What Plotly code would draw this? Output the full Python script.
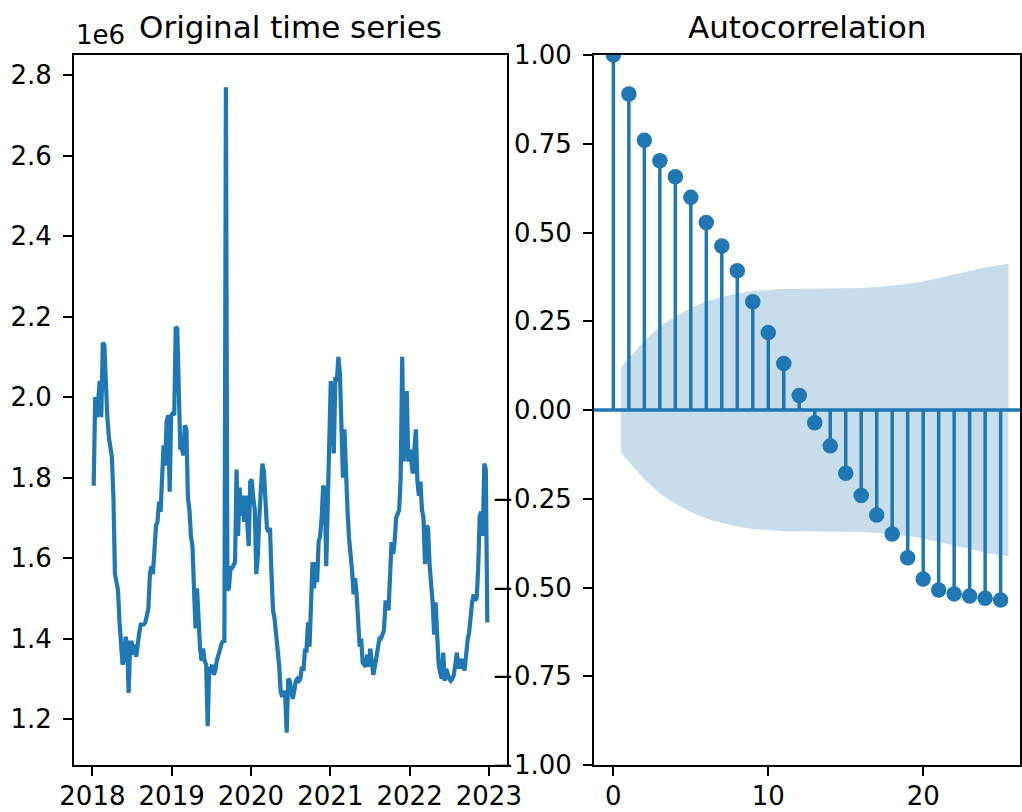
import pandas as pd
import plotly.graph_objects as go

# ---------------- data ----------------
start_date = "2018-01-07"
n_weeks = 260
# weekly values, in millions (axis offset label "1e6")
series_millions = [
    1.78, 2.00, 1.95, 2.00, 2.04, 1.95, 2.135, 2.13, 2.00, 1.95,
    1.90, 1.87, 1.85, 1.75, 1.56, 1.54, 1.52, 1.44, 1.36, 1.335,
    1.35, 1.405, 1.385, 1.265, 1.39, 1.39, 1.36, 1.385, 1.355, 1.39,
    1.415, 1.435, 1.435, 1.435, 1.44, 1.46, 1.475, 1.56, 1.58, 1.56,
    1.62, 1.68, 1.69, 1.74, 1.715, 1.84, 1.88, 1.83, 1.94, 1.955,
    1.765, 1.955, 1.96, 1.955, 2.175, 2.17, 2.04, 1.87, 1.875, 1.855,
    1.93, 1.92, 1.75, 1.72, 1.655, 1.63, 1.525, 1.425, 1.525, 1.425,
    1.375, 1.345, 1.375, 1.345, 1.335, 1.182, 1.325, 1.325, 1.335, 1.31,
    1.32, 1.345, 1.36, 1.38, 1.385, 1.395, 1.39, 2.77, 1.52, 1.525,
    1.575, 1.575, 1.585, 1.59, 1.82, 1.655, 1.775, 1.705, 1.755, 1.69,
    1.755, 1.705, 1.63, 1.79, 1.795, 1.75, 1.72, 1.56, 1.605, 1.705,
    1.755, 1.835, 1.815, 1.75, 1.675, 1.665, 1.675, 1.56, 1.47, 1.45,
    1.41, 1.395, 1.335, 1.27, 1.255, 1.27, 1.26, 1.166, 1.30, 1.295,
    1.27, 1.25, 1.27, 1.295, 1.30, 1.295, 1.30, 1.33, 1.32, 1.37,
    1.37, 1.44, 1.38, 1.52, 1.59, 1.525, 1.59, 1.54, 1.64, 1.655,
    1.70, 1.78, 1.77, 1.58, 1.72, 1.90, 2.04, 1.95, 1.86, 2.05,
    2.04, 2.10, 2.06, 1.93, 1.80, 1.92, 1.79, 1.72, 1.65, 1.62,
    1.57, 1.51, 1.55, 1.51, 1.44, 1.38, 1.40, 1.34, 1.335, 1.33,
    1.36, 1.33, 1.375, 1.34, 1.31, 1.33, 1.36, 1.39, 1.40, 1.40,
    1.41, 1.42, 1.49, 1.49, 1.47, 1.55, 1.64, 1.61, 1.64, 1.70,
    1.715, 1.72, 1.80, 2.10, 1.84, 2.01, 2.01, 1.84, 1.87, 1.84,
    1.81, 1.87, 1.92, 1.79, 1.755, 1.79, 1.72, 1.70, 1.585, 1.68,
    1.675, 1.585, 1.54, 1.49, 1.41, 1.49, 1.41, 1.335, 1.315, 1.30,
    1.365, 1.295, 1.325, 1.31, 1.30, 1.295, 1.30, 1.31, 1.345, 1.365,
    1.325, 1.35, 1.325, 1.35, 1.32, 1.375, 1.395, 1.415, 1.46, 1.49,
    1.51, 1.495, 1.50, 1.575, 1.705, 1.715, 1.655, 1.835, 1.82, 1.44,
]
year_ticks = ["2018", "2019", "2020", "2021", "2022", "2023"]
left_yticks = [1.2, 1.4, 1.6, 1.8, 2.0, 2.2, 2.4, 2.6, 2.8]

lags = list(range(26))
acf_values = [1.0, 0.89, 0.76, 0.702, 0.657, 0.599, 0.528, 0.462, 0.392, 0.305,
              0.218, 0.131, 0.041, -0.036, -0.101, -0.178, -0.241, -0.296, -0.349,
              -0.416, -0.476, -0.507, -0.518, -0.524, -0.530, -0.535]
# 95% confidence band half-width for lags 1..25
conf_half = [0.1216, 0.1954, 0.2351, 0.2643, 0.2874, 0.3053, 0.3185, 0.3282, 0.3351,
             0.3391, 0.3412, 0.3419, 0.3421, 0.3421, 0.3425, 0.3439, 0.3464, 0.3501,
             0.3552, 0.3623, 0.3715, 0.3815, 0.3918, 0.4020, 0.4122]
right_yticks = [-1.0, -0.75, -0.5, -0.25, 0.0, 0.25, 0.5, 0.75, 1.0]
right_xticks = [0, 10, 20]

# ---------------- figure ----------------
W, H = 1022, 812
BLUE = "#1f77b4"
FONT = "DejaVu Sans"
TICK_SIZE = 26
TITLE_SIZE = 31

dates = pd.date_range(start_date, periods=n_weeks, freq="7D")
span = dates[-1] - dates[0]
x_lo, x_hi = dates[0] - span * 0.05, dates[-1] + span * 0.05
yr = max(series_millions) - min(series_millions)
y_lo, y_hi = min(series_millions) - 0.05 * yr, max(series_millions) + 0.05 * yr

def px_x(p):
    return p / W

def px_y(p):
    return 1 - p / H

L_dom = [px_x(74), px_x(507)]
R_dom = [px_x(594), px_x(1020)]
Y_dom = [px_y(765), px_y(55)]

fig = go.Figure()

# left: time series
fig.add_trace(go.Scatter(x=dates, y=series_millions, mode="lines",
                         line=dict(color=BLUE, width=4.2),
                         xaxis="x", yaxis="y", showlegend=False, hoverinfo="skip"))

# right: zero line
fig.add_trace(go.Scatter(x=[-1.25, 26.25], y=[0, 0], mode="lines",
                         line=dict(color=BLUE, width=3.5),
                         xaxis="x2", yaxis="y2", showlegend=False, hoverinfo="skip"))
# stems
sx, sy = [], []
for k, r in zip(lags, acf_values):
    sx += [k, k, None]
    sy += [0, r, None]
fig.add_trace(go.Scatter(x=sx, y=sy, mode="lines",
                         line=dict(color=BLUE, width=3.5),
                         xaxis="x2", yaxis="y2", showlegend=False, hoverinfo="skip"))
fig.add_trace(go.Scatter(x=lags, y=acf_values, mode="markers",
                         marker=dict(color=BLUE, size=15.5, line=dict(width=0)),
                         xaxis="x2", yaxis="y2", showlegend=False, hoverinfo="skip"))
# confidence band
band_x = [float(k) for k in lags[1:]]
band_x[0] -= 0.5
band_x[-1] += 0.5
fig.add_trace(go.Scatter(x=band_x, y=[-c for c in conf_half], mode="lines",
                         line=dict(width=0, color="rgba(0,0,0,0)"),
                         xaxis="x2", yaxis="y2", showlegend=False, hoverinfo="skip"))
fig.add_trace(go.Scatter(x=band_x, y=conf_half, mode="lines", fill="tonexty",
                         fillcolor="rgba(31,119,180,0.25)",
                         line=dict(width=0, color="rgba(0,0,0,0)"),
                         xaxis="x2", yaxis="y2", showlegend=False, hoverinfo="skip"))

axis_common = dict(showline=True, mirror=True, linecolor="black", linewidth=2,
                   ticks="outside", ticklen=9, tickwidth=2, tickcolor="black",
                   showgrid=False, zeroline=False, automargin=False,
                   tickfont=dict(family=FONT, size=TICK_SIZE, color="black"))

fig.update_layout(
    width=W, height=H, autosize=False,
    margin=dict(l=0, r=0, t=0, b=0, pad=0),
    paper_bgcolor="white", plot_bgcolor="white",
    font=dict(family=FONT, color="black"),
    xaxis=dict(domain=L_dom, anchor="y", range=[x_lo, x_hi], type="date",
               tickvals=[pd.Timestamp(y + "-01-01") for y in year_ticks],
               ticktext=year_ticks, ticklabelstandoff=-2, **axis_common),
    yaxis=dict(domain=Y_dom, anchor="x", range=[y_lo, y_hi],
               tickvals=left_yticks, ticktext=[f"{v:.1f}" for v in left_yticks],
               ticklabelstandoff=6, **axis_common),
    xaxis2=dict(domain=R_dom, anchor="y2", range=[-1.25, 26.25],
                tickvals=right_xticks, ticktext=[str(v) for v in right_xticks],
                ticklabelstandoff=-2, **axis_common),
    yaxis2=dict(domain=Y_dom, anchor="x2", range=[-1, 1],
                tickvals=right_yticks,
                ticktext=[f"{v:.2f}".replace("-", "\u2212") for v in right_yticks],
                ticklabelstandoff=6, **axis_common),
    annotations=[
        dict(text="Original time series", xref="paper", yref="paper",
             x=(L_dom[0] + L_dom[1]) / 2, y=Y_dom[1], xanchor="center", yanchor="bottom",
             yshift=8, showarrow=False, font=dict(family=FONT, size=TITLE_SIZE, color="black")),
        dict(text="Autocorrelation", xref="paper", yref="paper",
             x=(R_dom[0] + R_dom[1]) / 2, y=Y_dom[1], xanchor="center", yanchor="bottom",
             yshift=8, showarrow=False, font=dict(family=FONT, size=TITLE_SIZE, color="black")),
        dict(text="1e6", xref="paper", yref="paper",
             x=L_dom[0], y=Y_dom[1], xanchor="left", yanchor="bottom",
             yshift=3, showarrow=False, font=dict(family=FONT, size=TICK_SIZE, color="black")),
    ],
)

fig.write_html("out.html")
